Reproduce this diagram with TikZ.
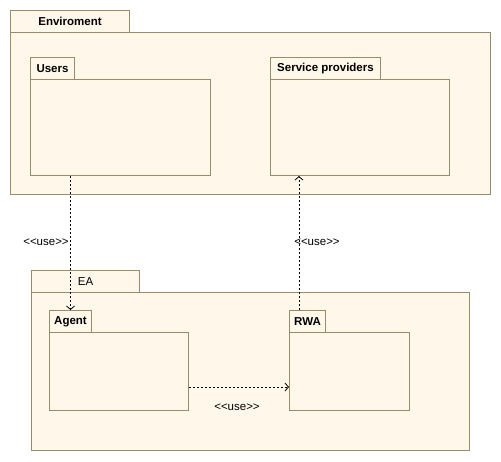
\documentclass[tikz,border=0pt]{standalone}
\usepackage{fontspec}
\setmainfont{Liberation Sans}
\usetikzlibrary{arrows.meta,calc}
\definecolor{pkgfill}{HTML}{FFF8EA}
\definecolor{pkgline}{HTML}{9A8C68}
\newcommand{\uselbl}{<\kern0pt<use>\kern0pt>}
\tikzset{
  pkg/.style={draw=pkgline, fill=pkgfill, line width=1pt, inner sep=0pt, anchor=north west, rectangle},
  tabtext/.style={font=\fontsize{11.5}{12}\selectfont\bfseries, text=black},
  uselabel/.style={font=\fontsize{11.5}{12}\selectfont, text=black, inner sep=0pt},
  usearrow/.style={draw=black, line width=0.8pt, dash pattern=on 2pt off 2pt,
    -{Straight Barb[length=3.5pt,width=8pt,line width=0.8pt]}}
}
\begin{document}
\begin{tikzpicture}[x=1pt,y=-1pt]
\useasboundingbox (0,0) rectangle (501,461);
% Enviroment
\node[pkg, minimum width=119pt, minimum height=22pt, tabtext] (envtab) at (10,10) {Enviroment};
\node[pkg, minimum width=480pt, minimum height=162pt] (env) at (10,32) {};
% Users
\node[pkg, minimum width=44pt, minimum height=22pt, tabtext] (userstab) at (30,57) {Users};
\node[pkg, minimum width=180pt, minimum height=96pt] (users) at (30,79) {};
% Service providers
\node[pkg, minimum width=110pt, minimum height=22pt, tabtext] (sptab) at (270,57) {Service providers};
\node[pkg, minimum width=179pt, minimum height=96pt] (sp) at (270,79) {};
% EA
\node[pkg, minimum width=108pt, minimum height=22pt, font=\fontsize{11.5}{12}\selectfont] (eatab) at (31,270) {EA};
\node[pkg, minimum width=438pt, minimum height=158pt] (ea) at (31,292) {};
% Agent
\node[pkg, minimum width=42pt, minimum height=22pt, tabtext] (agenttab) at (49,310) {Agent};
\node[pkg, minimum width=139pt, minimum height=78pt] (agent) at (49,332) {};
% RWA
\node[pkg, minimum width=36pt, minimum height=22pt, tabtext] (rwatab) at (289,310) {RWA};
\node[pkg, minimum width=120pt, minimum height=78pt] (rwa) at (289,332) {};
% connector end points
\coordinate (rwaup) at ($(rwatab.north west)+(10,0)$);
\coordinate (agentout) at ($(agent.north east)+(0,55)$);
% connectors
\draw[usearrow] (users.south -| agenttab.north) -- (agenttab.north);
\draw[usearrow] (rwaup) -- (sp.south -| rwaup);
\draw[usearrow] (agentout) -- (agentout -| rwa.west);
% labels
\node[uselabel] (lab1) at (46,242) {\uselbl};
\node[uselabel] (lab2) at (317,242) {\uselbl};
\node[uselabel] (lab3) at (237,407) {\uselbl};
\end{tikzpicture}
\end{document}
